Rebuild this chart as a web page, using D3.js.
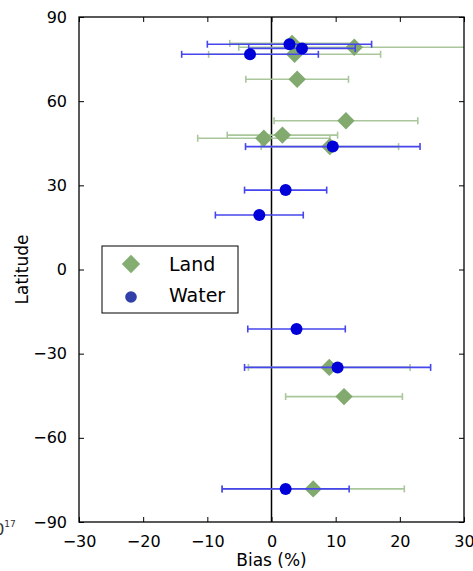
<!DOCTYPE html>
<html>
<head>
<meta charset="utf-8">
<script src="https://cdn.jsdelivr.net/npm/d3@7"></script>
<style>
  html, body { margin: 0; padding: 0; background: #fff; }
  svg { display: block; font-family: "DejaVu Sans", sans-serif; }
</style>
</head>
<body>
<svg id="chart" width="473" height="571"></svg>
<script>
// Mean bias (%) by latitude band, with one-sigma spread, for land and water sites
const landLat  = [80.6, 79.2, 76.7, 67.8, 53.0, 47.9, 46.8, 43.8, -34.9, -45.3, -78.2];
const landBias = [3.2, 12.9, 3.6, 4.0, 11.6, 1.7, -1.2, 9.1, 9.0, 11.3, 6.5];
const landErr  = [9.7, 18.0, 13.4, 8.0, 11.2, 8.6, 10.3, 10.7, 12.6, 9.1, 14.2];

const waterLat  = [80.3, 78.8, 76.7, 43.8, 28.3, 19.4, -21.2, -34.9, -78.2];
const waterBias = [2.8, 4.75, -3.35, 9.55, 2.2, -1.9, 3.9, 10.3, 2.2];
const waterErr  = [12.8, 8.3, 10.65, 13.6, 6.4, 6.85, 7.6, 14.5, 9.9];

const xTicks = [-30, -20, -10, 0, 10, 20, 30];
const yTicks = [-90, -60, -30, 0, 30, 60, 90];
const seriesNames = ["Land", "Water"];

const svg = d3.select("#chart");
const plotLeft = 79, plotRight = 464, plotTop = 17, plotBottom = 522;

const x = d3.scaleLinear().domain([-30, 30]).range([plotLeft, plotRight]);
const y = d3.scaleLinear().domain([-90, 90]).range([plotBottom, plotTop]);

const landColor = "#82aa6f", landBarColor = "#a9c79b";
const waterColor = "#0000d8", waterBarColor = "#4646ec";

svg.append("defs").append("clipPath").attr("id", "plotclip")
  .append("rect").attr("x", plotLeft).attr("y", plotTop)
  .attr("width", plotRight - plotLeft).attr("height", plotBottom - plotTop);

const plot = svg.append("g").attr("clip-path", "url(#plotclip)");

// zero-bias reference line
plot.append("line")
  .attr("x1", x(0)).attr("x2", x(0)).attr("y1", plotTop).attr("y2", plotBottom)
  .attr("stroke", "#000").attr("stroke-width", 1.5);

function errorBars(g, lat, bias, err, color) {
  const rows = lat.map((l, i) => ({ lat: l, lo: bias[i] - err[i], hi: bias[i] + err[i] }));
  const bars = g.append("g").attr("stroke", color).attr("stroke-width", 1.6).attr("fill", "none");
  bars.selectAll("line.h").data(rows).join("line").attr("class", "h")
    .attr("x1", d => x(d.lo)).attr("x2", d => x(d.hi))
    .attr("y1", d => y(d.lat)).attr("y2", d => y(d.lat));
  ["lo", "hi"].forEach(k => {
    bars.selectAll("line.c" + k).data(rows).join("line").attr("class", "c" + k)
      .attr("x1", d => x(d[k])).attr("x2", d => x(d[k]))
      .attr("y1", d => y(d.lat) - 3.5).attr("y2", d => y(d.lat) + 3.5);
  });
}

const diamond = s => `M0,${-s}L${s},0L0,${s}L${-s},0Z`;

// land: bars then diamonds
errorBars(plot, landLat, landBias, landErr, landBarColor);
plot.append("g").selectAll("path").data(landLat).join("path")
  .attr("d", diamond(8.7))
  .attr("transform", (d, i) => `translate(${x(landBias[i])},${y(d)})`)
  .attr("fill", landColor);

// water: bars then circles, drawn on top
errorBars(plot, waterLat, waterBias, waterErr, waterBarColor);
plot.append("g").selectAll("circle").data(waterLat).join("circle")
  .attr("cx", (d, i) => x(waterBias[i])).attr("cy", d => y(d))
  .attr("r", 6).attr("fill", waterColor);

// frame
svg.append("rect").attr("x", plotLeft).attr("y", plotTop)
  .attr("width", plotRight - plotLeft).attr("height", plotBottom - plotTop)
  .attr("fill", "none").attr("stroke", "#000").attr("stroke-width", 1.3);

// axes with inward ticks on all four sides
const tickLen = 5;
const axisStyle = g => {
  g.select(".domain").remove();
  g.selectAll(".tick line").attr("stroke", "#000").attr("stroke-width", 1);
  g.selectAll(".tick text").attr("font-size", 16).attr("fill", "#000")
    .attr("font-family", "DejaVu Sans, sans-serif");
};
const fmt = d => d3.format("d")(d).replace("-", "\u2212");

svg.append("g").attr("transform", `translate(0,${plotBottom})`)
  .call(d3.axisBottom(x).tickValues(xTicks).tickSizeInner(-tickLen).tickSizeOuter(0).tickPadding(tickLen + 9)
    .tickFormat(fmt))
  .call(axisStyle);
svg.append("g").attr("transform", `translate(0,${plotTop})`)
  .call(d3.axisTop(x).tickValues(xTicks).tickSizeInner(-tickLen).tickSizeOuter(0).tickFormat(""))
  .call(axisStyle);
svg.append("g").attr("transform", `translate(${plotLeft},0)`)
  .call(d3.axisLeft(y).tickValues(yTicks).tickSizeInner(-tickLen).tickSizeOuter(0).tickPadding(tickLen + 7)
    .tickFormat(fmt))
  .call(axisStyle);
svg.append("g").attr("transform", `translate(${plotRight},0)`)
  .call(d3.axisRight(y).tickValues(yTicks).tickSizeInner(-tickLen).tickSizeOuter(0).tickFormat(""))
  .call(axisStyle);

// axis titles
svg.append("text").attr("x", (plotLeft + plotRight) / 2).attr("y", 566)
  .attr("text-anchor", "middle").attr("font-size", 17).text("Bias (%)");
svg.append("text").attr("transform", `translate(28,${(plotTop + plotBottom) / 2}) rotate(-90)`)
  .attr("text-anchor", "middle").attr("font-size", 17).text("Latitude");

// legend
const lg = svg.append("g");
lg.append("rect").attr("x", 102).attr("y", 246).attr("width", 136).attr("height", 67)
  .attr("fill", "#fff").attr("stroke", "#000").attr("stroke-width", 1);
lg.append("path").attr("d", diamond(9.2)).attr("transform", "translate(131,264)").attr("fill", "#84ad71");
lg.append("circle").attr("cx", 131).attr("cy", 297).attr("r", 5.8).attr("fill", "#3040a8");
lg.selectAll("text").data(seriesNames).join("text")
  .attr("x", 169).attr("y", (d, i) => 271 + i * 31)
  .attr("font-size", 19).attr("fill", "#000").text(d => d);

// fragment of a neighbouring panel's label at the left edge
const frag = svg.append("text").attr("x", -16).attr("y", 535)
  .attr("font-size", 16).attr("fill", "#333");
frag.append("tspan").text("10");
frag.append("tspan").attr("dy", -8).attr("font-size", 9).text("17");
</script>
</body>
</html>
